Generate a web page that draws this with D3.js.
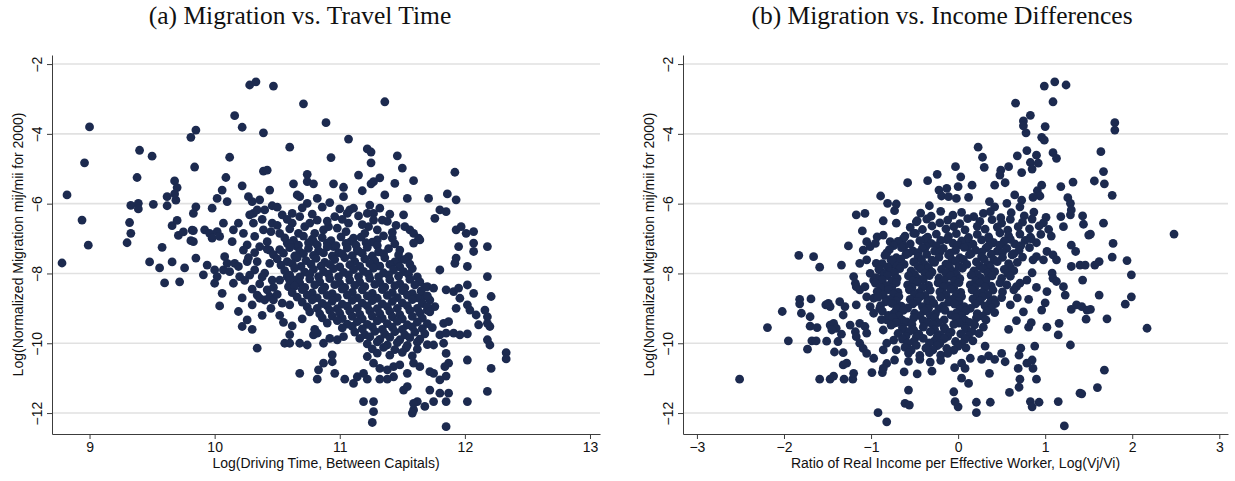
<!DOCTYPE html>
<html>
<head>
<meta charset="utf-8">
<script src="https://cdn.jsdelivr.net/npm/d3@7"></script>
<style>
  html, body { margin: 0; padding: 0; background: #ffffff; }
  svg { display: block; }
</style>
</head>
<body>
<svg id="chart" width="1235" height="481"></svg>
<script>
// Shared vertical axis: log of normalized migration flows, 2000
const migrationTicks = [-2, -4, -6, -8, -10, -12];
const travelTicks = [9, 10, 11, 12, 13];
const incomeTicks = [-3, -2, -1, 0, 1, 2, 3];

const panelTitles = ["(a) Migration vs. Travel Time", "(b) Migration vs. Income Differences"];
const xTitles = ["Log(Driving Time, Between Capitals)", "Ratio of Real Income per Effective Worker, Log(Vj/Vi)"];
const yTitle = "Log(Normalized Migration mij/mii for 2000)";

// Panel (a): [log driving time, log normalized migration]
const travelPoints = [
  [9.0,-3.8],[8.96,-4.83],[8.82,-5.75],[8.94,-6.47],[8.99,-7.19],[8.78,-7.7],
  [10.28,-2.6],[10.33,-2.51],[10.47,-2.63],[10.71,-3.14],[10.89,-3.68],[10.16,-3.48],[10.22,-3.81],[10.39,-3.97],
  [9.85,-3.89],[9.81,-4.1],[9.4,-4.47],[9.5,-4.64],[9.84,-4.95],[10.12,-4.67],[10.6,-4.38],[10.93,-4.68],
  [9.38,-5.25],[9.68,-5.35],[9.7,-5.54],[10.09,-5.25],[10.39,-5.07],[10.42,-5.04],[10.74,-5.16],
  [9.62,-5.8],[9.69,-5.9],[9.68,-5.72],[9.33,-6.05],[9.39,-5.99],[9.39,-6.15],[9.51,-6.02],[9.62,-6.06],
  [9.85,-6.09],[9.83,-6.28],[9.32,-6.54],[9.33,-6.85],[9.3,-7.12],[9.66,-6.63],[9.7,-6.48],[9.71,-6.91],
  [9.75,-6.81],[9.82,-6.76],[9.83,-6.77],[9.83,-7.09],[9.81,-7.06],[9.58,-7.25],
  [9.48,-7.67],[9.56,-7.84],[9.66,-7.67],[9.76,-7.84],[9.85,-7.56],[9.6,-8.27],[9.72,-8.24],
  [11.36,-3.08],[11.07,-4.15],[11.22,-4.43],[11.25,-4.52],[11.46,-4.63],[11.25,-4.83],[11.5,-4.98],
  [11.92,-5.1],[11.15,-5.18],[11.32,-5.26],
  [10.06,-5.61],[10.02,-5.85],[10.1,-5.94],[9.98,-6.13],[10.22,-5.49],[10.44,-5.61],[10.63,-5.43],[10.74,-5.37],
  [10.79,-5.43],[10.95,-5.43],[11.03,-5.53],[11.03,-5.8],[11.18,-5.63],[11.25,-5.43],[11.27,-5.37],[11.44,-5.42],
  [11.59,-5.34],[10.66,-5.75],[10.68,-5.8],[10.74,-5.99],[10.82,-5.85],[10.92,-5.97],[11.08,-6.18],[11.11,-6.13],
  [11.24,-6.04],[11.32,-6.13],[11.27,-6.28],[11.36,-5.75],[11.54,-5.85],[11.71,-5.85],[11.86,-5.72],[11.93,-5.89],
  [11.8,-6.18],[11.76,-6.42],[10.27,-5.8],[10.3,-5.94],[10.36,-5.89],[10.4,-6.18],[10.46,-6.06],[10.31,-6.28],[10.34,-6.18],
  [9.92,-6.75],[9.96,-6.85],[10.02,-6.8],[9.98,-6.99],[10.04,-6.94],[10.07,-6.56],[10.15,-6.75],[10.19,-6.56],
  [10.14,-7.09],[10.23,-6.85],[10.28,-6.32],[10.31,-6.56],[10.26,-7.18],[10.23,-7.33],[10.32,-6.94],[10.39,-6.75],
  [10.42,-7.09],[10.46,-6.56],[10.44,-7.33],[10.36,-7.23],[10.54,-6.32],[10.52,-6.85],[10.58,-7.13],[10.62,-6.28],
  [10.62,-6.56],[10.67,-6.85],[10.66,-7.23],[10.68,-6.37],[10.72,-6.66],[10.76,-6.56],[10.79,-7.09],[10.82,-6.47],
  [10.87,-6.75],[10.91,-6.66],[10.95,-7.23],[10.96,-6.37],[10.98,-6.7],[11.06,-6.28],[11.07,-6.56],[11.11,-6.99],
  [11.14,-7.33],[11.22,-6.28],[11.23,-6.66],[11.27,-6.47],[11.3,-7.04],[11.34,-6.47],[11.38,-6.51],[11.42,-6.99],
  [11.48,-7.33],[11.51,-6.32],[11.52,-6.66],[11.56,-6.75],[11.59,-6.85],[11.63,-6.99],[11.64,-7.04],[11.59,-7.13],
  [11.55,-7.52],[11.48,-7.61],[11.93,-6.75],[11.97,-6.66],[12.01,-6.85],[12.07,-6.8],[12.07,-7.13],[12.07,-7.37],
  [12.18,-7.23],[11.95,-7.23],[11.93,-7.56],[11.92,-7.71],[12.02,-7.8],[11.8,-7.9],[11.85,-6.23],
  [9.91,-8.04],[9.94,-7.76],[10.0,-7.9],[10.02,-8.09],[10.0,-8.28],[10.08,-7.52],[10.07,-7.9],[10.1,-7.71],
  [10.16,-7.71],[10.19,-7.8],[10.2,-8.09],[10.15,-8.28],[10.26,-7.66],[10.34,-7.66],[10.32,-7.9],[10.4,-7.99],
  [10.44,-7.71],[10.46,-8.19],[10.42,-8.47],[10.34,-8.62],[10.36,-8.71],[10.4,-8.76],[10.44,-8.66],[10.47,-8.76],
  [10.54,-8.85],[10.52,-8.19],[10.58,-8.09],[10.59,-8.38],[10.62,-8.19],[10.64,-8.19],[10.06,-8.57],[10.04,-8.93],
  [10.19,-9.09],[10.26,-9.33],[10.22,-9.52],[10.3,-9.6],[10.34,-10.14],
  [11.7,-8.38],[11.75,-8.42],[11.67,-8.66],[11.72,-8.76],[11.76,-8.95],[11.7,-9.05],[11.85,-8.47],[11.91,-8.52],
  [11.95,-8.42],[11.96,-8.71],[12.02,-8.33],[12.07,-8.57],[11.93,-9.0],[12.02,-8.9],[12.04,-9.05],[12.18,-8.09],
  [12.21,-8.66],[12.09,-9.19],[12.16,-9.05],[12.18,-9.24],[12.2,-9.52],[12.18,-9.43],[11.83,-9.43],[11.87,-9.38],
  [11.8,-9.76],[11.85,-9.71],[11.91,-9.71],[11.96,-9.76],[12.02,-9.73],[12.11,-9.47],[12.18,-9.9],[12.2,-10.05],
  [11.83,-10.0],[11.75,-10.05],[11.85,-10.29],[11.87,-10.57],[12.02,-10.48],[11.84,-10.67],[11.85,-10.94],[11.8,-11.05],
  [11.75,-10.86],[11.72,-10.81],[11.64,-10.67],[11.59,-10.57],[11.54,-10.86],[11.51,-11.34],[11.54,-11.24],[11.72,-11.34],
  [11.8,-11.43],[11.87,-11.43],[11.85,-11.67],[11.75,-11.67],[11.62,-11.67],[11.59,-11.91],[11.68,-11.81],[12.02,-11.67],
  [12.18,-11.38],[12.21,-10.72],[11.85,-12.39],[12.33,-10.27],[12.33,-10.45],
  [11.22,-10.38],[11.27,-10.57],[11.32,-10.72],[11.38,-10.76],[11.43,-10.67],[11.48,-10.62],[11.43,-10.96],[11.38,-11.03],
  [11.32,-11.03],[11.22,-11.03],[11.19,-10.86],[11.14,-10.96],[11.11,-11.15],[11.04,-11.03],[10.96,-10.86],[10.94,-10.53],
  [10.94,-10.33],[10.87,-10.57],[10.83,-10.76],[10.82,-11.03],[10.68,-10.86],[11.19,-11.67],[11.27,-11.67],[11.27,-11.96],
  [11.26,-12.27],[11.59,-11.72],[11.58,-12.0],[10.56,-10.0],[10.6,-10.0],[10.68,-10.0],[10.74,-10.05],[10.79,-9.76],
  [10.82,-9.71],[10.87,-10.0],[10.92,-9.86],[10.98,-9.9],[11.03,-9.81],
  [10.56,-6.98],[10.63,-7.05],[10.71,-6.93],[10.78,-7.02],[10.86,-6.97],[10.93,-7.06],[11.01,-6.95],[11.09,-7.08],
  [11.17,-6.96],[11.26,-7.1],[11.35,-6.92],
  [10.6,-7.15],[10.67,-7.19],[10.75,-7.12],[10.82,-7.18],[10.9,-7.13],[10.97,-7.2],[11.05,-7.14],[11.13,-7.19],
  [11.21,-7.12],[11.3,-7.2],[11.44,-7.15],
  [10.52,-7.32],[10.6,-7.26],[10.68,-7.38],[10.75,-7.28],[10.83,-7.35],[10.9,-7.24],[10.99,-7.4],[11.06,-7.27],
  [11.15,-7.36],[11.22,-7.25],[11.31,-7.38],[11.39,-7.29],[10.32,-7.4],[10.42,-7.3],
  [10.47,-7.46],[10.55,-7.42],[10.64,-7.5],[10.71,-7.43],[10.79,-7.48],[10.87,-7.41],[10.94,-7.5],[11.02,-7.44],
  [11.1,-7.49],[11.18,-7.42],[11.26,-7.5],[11.35,-7.43],[11.47,-7.47],
  [10.5,-7.58],[10.58,-7.66],[10.66,-7.55],[10.73,-7.63],[10.81,-7.57],[10.88,-7.68],[10.96,-7.6],[11.04,-7.55],
  [11.12,-7.66],[11.2,-7.58],[11.28,-7.64],[11.36,-7.55],[11.44,-7.67],[11.52,-7.6],[10.27,-7.55],
  [10.53,-7.76],[10.62,-7.72],[10.69,-7.8],[10.77,-7.73],[10.85,-7.79],[10.92,-7.74],[11.0,-7.81],[11.08,-7.75],
  [11.16,-7.8],[11.24,-7.72],[11.32,-7.79],[11.4,-7.74],[11.48,-7.81],[11.56,-7.73],
  [10.56,-7.92],[10.64,-7.85],[10.72,-7.96],[10.79,-7.88],[10.87,-7.95],[10.95,-7.86],[11.03,-7.97],[11.11,-7.89],
  [11.19,-7.94],[11.27,-7.85],[11.35,-7.98],[11.43,-7.9],[11.51,-7.95],[11.58,-7.86],
  [10.6,-8.05],[10.68,-8.1],[10.76,-8.03],[10.83,-8.09],[10.91,-8.02],[10.99,-8.1],[11.07,-8.04],[11.15,-8.09],
  [11.23,-8.02],[11.31,-8.1],[11.39,-8.04],[11.47,-8.08],[11.55,-8.03],[11.62,-8.1],
  [10.6,-8.2],[10.68,-8.27],[10.76,-8.16],[10.84,-8.24],[10.92,-8.15],[11.0,-8.28],[11.08,-8.19],[11.16,-8.25],
  [11.24,-8.14],[11.32,-8.26],[11.4,-8.18],[11.48,-8.29],[11.56,-8.17],[11.64,-8.24],
  [10.64,-8.36],[10.72,-8.4],[10.8,-8.33],[10.88,-8.39],[10.96,-8.32],[11.04,-8.4],[11.12,-8.34],[11.2,-8.38],
  [11.28,-8.31],[11.36,-8.39],[11.44,-8.35],[11.52,-8.41],[11.6,-8.33],[11.68,-8.39],
  [10.62,-8.55],[10.7,-8.46],[10.78,-8.56],[10.86,-8.48],[10.94,-8.58],[11.02,-8.45],[11.1,-8.54],[11.18,-8.47],
  [11.26,-8.57],[11.34,-8.46],[11.42,-8.55],[11.5,-8.49],[11.58,-8.58],[11.65,-8.5],
  [10.66,-8.68],[10.74,-8.62],[10.82,-8.7],[10.9,-8.63],[10.98,-8.69],[11.06,-8.62],[11.14,-8.7],[11.22,-8.64],
  [11.3,-8.71],[11.38,-8.63],[11.46,-8.69],[11.54,-8.62],[11.62,-8.7],[11.7,-8.64],
  [10.7,-8.82],[10.78,-8.76],[10.86,-8.86],[10.94,-8.79],[11.02,-8.88],[11.1,-8.77],[11.18,-8.85],[11.26,-8.78],
  [11.34,-8.87],[11.42,-8.8],[11.5,-8.84],[11.58,-8.75],[11.66,-8.86],
  [10.74,-8.96],[10.82,-9.0],[10.9,-8.93],[10.98,-9.01],[11.06,-8.94],[11.14,-9.0],[11.22,-8.93],[11.3,-9.01],
  [11.38,-8.95],[11.46,-9.0],[11.54,-8.93],[11.62,-9.0],[11.7,-8.95],
  [10.76,-9.1],[10.84,-9.16],[10.92,-9.06],[11.0,-9.14],[11.08,-9.08],[11.16,-9.17],[11.24,-9.07],[11.32,-9.15],
  [11.4,-9.09],[11.48,-9.18],[11.56,-9.06],[11.64,-9.13],[11.72,-9.1],
  [10.86,-9.27],[10.94,-9.22],[11.02,-9.29],[11.1,-9.23],[11.18,-9.3],[11.26,-9.22],[11.34,-9.29],[11.42,-9.24],
  [11.5,-9.3],[11.58,-9.23],[11.66,-9.28],
  [10.9,-9.42],[10.98,-9.35],[11.06,-9.45],[11.14,-9.38],[11.22,-9.46],[11.3,-9.36],[11.38,-9.44],[11.46,-9.37],
  [11.54,-9.47],[11.62,-9.39],[11.7,-9.44],
  [11.02,-9.56],[11.1,-9.52],[11.18,-9.59],[11.26,-9.53],[11.34,-9.6],[11.42,-9.54],[11.5,-9.6],[11.58,-9.53],
  [11.66,-9.58],[11.74,-9.55],
  [11.12,-9.68],[11.2,-9.75],[11.28,-9.66],[11.36,-9.74],[11.44,-9.67],[11.52,-9.76],[11.6,-9.68],[11.68,-9.73],
  [11.16,-9.86],[11.24,-9.82],[11.32,-9.89],[11.4,-9.83],[11.48,-9.9],[11.56,-9.84],[11.64,-9.88],
  [11.22,-10.02],[11.3,-9.96],[11.38,-10.05],[11.46,-9.98],[11.54,-10.06],[11.62,-9.97],[11.7,-10.04],
  [11.26,-10.16],[11.35,-10.12],[11.44,-10.18],[11.53,-10.13],[11.62,-10.17],
  [11.3,-10.28],[11.4,-10.34],[11.5,-10.26],[11.58,-10.36],
  [10.28,-8.05],[10.36,-8.3],[10.47,-8.4],[10.3,-8.9],[10.52,-9.2],[10.62,-9.5],[10.7,-9.3],[10.6,-9.75],[10.8,-9.6],
  [10.5,-6.1],[10.58,-6.45],[10.7,-6.12],[10.78,-6.3],[10.86,-6.1],[10.9,-6.5],[11.0,-6.15],[11.02,-6.45],
  [11.15,-6.35],[11.18,-6.6],[11.3,-6.75],[11.4,-6.3],[11.45,-6.62],[10.5,-6.62],[10.6,-6.72],[10.8,-6.85],
  [11.05,-6.8],[11.2,-6.85],[11.42,-6.82],[10.38,-6.45],[10.45,-6.8],
  [10.12,-7.95],[10.24,-8.2],[10.38,-8.1],[10.3,-8.45],[10.5,-8.6],[10.22,-8.7],[10.45,-9.0],[10.6,-8.9],
  [10.38,-9.2],[10.55,-9.4]
];

// Panel (b): [log income ratio, log normalized migration]
const incomePoints = [
  [-2.51,-11.03],[-2.19,-9.55],[-2.02,-9.09],[-1.95,-9.93],[-1.83,-7.48],[-1.66,-7.52],[-1.59,-7.82],[-1.34,-7.76],
  [-1.26,-7.21],[-1.17,-6.32],[-1.07,-6.28],[-1.1,-6.78],[-0.89,-5.78],[-0.81,-5.99],[-0.73,-6.2],[-0.71,-6.01],
  [-0.86,-6.49],[-0.71,-6.56],
  [-1.82,-8.74],[-1.82,-8.87],[-1.69,-8.73],[-1.8,-9.14],[-1.7,-9.24],[-1.7,-9.51],[-1.62,-9.55],[-1.73,-10.17],
  [-1.68,-9.93],[-1.63,-9.93],[-1.52,-8.9],[-1.47,-8.95],[-1.49,-8.86],[-1.51,-9.94],[-1.42,-10.25],[-1.32,-10.27],
  [-1.38,-9.95],[-1.36,-8.81],[-1.3,-8.95],[-1.32,-9.19],[-1.47,-9.48],[-1.43,-9.43],[-1.4,-9.57],[-1.45,-9.62],
  [-1.34,-9.74],[-1.32,-10.62],[-1.28,-10.57],[-1.59,-11.03],[-1.47,-11.03],[-1.43,-10.94],[-1.31,-11.03],[-1.21,-11.03],
  [-1.2,-10.86],[-1.24,-9.48],[-1.17,-8.9],[-1.18,-9.67],[-1.17,-9.81],[-1.13,-10.0],[-1.09,-10.15],[-1.13,-9.43],
  [-1.07,-9.52],[-1.05,-9.71],[-1.05,-10.29],[-0.97,-10.43],[-0.99,-10.84],[-0.87,-10.84],[-0.86,-10.19],[-0.92,-11.99],
  [-0.82,-12.25],[-1.2,-8.09],[-1.18,-8.28],[-1.13,-8.47],[-1.07,-8.38],[-1.05,-8.67],[-1.13,-7.71],[-1.05,-7.61],
  [-0.94,-7.71],[-0.9,-7.9],[-0.88,-8.14],[-1.09,-7.33],[-1.01,-7.23],[-0.95,-7.14],[-1.05,-7.09],[-0.93,-6.95],
  [-0.86,-6.9],[-0.78,-7.09],[-0.74,-7.18],[-0.76,-7.61],[-0.78,-7.8],
  [-0.97,-8.71],[-1.01,-8.95],[-0.97,-9.14],[-0.9,-9.0],[-0.84,-8.47],[-0.82,-8.76],[-0.76,-8.38],[-0.74,-8.66],
  [-0.71,-9.05],[-0.82,-9.33],[-0.74,-9.43],[-0.86,-9.62],[-0.82,-10.0],[-0.74,-9.91],[-0.71,-10.19],[-0.73,-10.48],
  [-0.82,-10.58],[-0.86,-10.72],[-1.01,-8.0],[-0.97,-8.19],[-1.17,-8.38],
  [0.99,-2.63],[1.11,-2.51],[1.24,-2.6],[1.09,-3.08],[0.66,-3.12],[0.83,-3.47],[0.75,-3.63],[0.75,-3.77],
  [0.78,-3.97],[1.0,-3.79],[0.96,-4.1],[0.99,-4.18],[0.23,-4.38],[0.28,-4.67],[0.3,-4.96],[0.79,-4.48],
  [0.68,-4.63],[0.9,-4.61],[1.09,-4.54],[1.13,-4.7],[0.83,-4.82],[0.92,-4.84],[0.85,-5.01],[0.73,-5.11],
  [0.58,-4.94],[0.49,-5.04],[-0.03,-4.94],[0.03,-5.23],[-0.24,-5.16],[-0.35,-5.34],[-0.58,-5.4],[0.16,-5.47],
  [0.0,-5.51],[-0.13,-5.56],[-0.22,-5.61],[-0.19,-5.78],[-0.11,-5.8],[-0.02,-5.85],[0.12,-5.82],[0.48,-5.18],
  [0.54,-5.4],[0.42,-5.47],[0.96,-5.47],[0.91,-5.63],[0.94,-5.78],[0.86,-5.82],[1.18,-5.51],[1.32,-5.38],
  [1.26,-5.83],[1.29,-5.99],[1.3,-6.18],[1.29,-6.32],[1.43,-6.35],[1.44,-6.59],[1.5,-6.9],[1.18,-6.37],
  [1.21,-6.66],[1.3,-7.19],[1.35,-7.37],[-0.33,-6.06],[-0.47,-6.49],[-0.51,-6.85],[-0.59,-7.42],[0.36,-5.94],
  [0.42,-6.09],[0.37,-6.23],[0.56,-5.99],[0.65,-5.75],[0.73,-5.9],[0.71,-6.09],
  [1.8,-3.68],[1.8,-3.89],[1.64,-4.51],[1.67,-5.08],[1.565,-5.35],[1.68,-5.43],[1.77,-5.76],[1.67,-6.56],
  [1.52,-6.87],[2.48,-6.87],[1.78,-7.14],[1.77,-7.53],[1.62,-7.66],[1.57,-7.76],[1.94,-7.63],[1.99,-8.04],
  [1.62,-8.62],[1.52,-9.03],[1.99,-8.67],[1.92,-8.88],[1.71,-9.3],[2.17,-9.57],[1.68,-10.77],[1.6,-11.27],
  [1.22,-12.37],[0.21,-11.99],[0.21,-11.69],[0.37,-11.69],[0.0,-11.82],[-0.035,-11.67],[-0.05,-11.39],[-0.61,-11.72],
  [-0.56,-11.77],[-0.57,-11.34],[0.12,-11.15],[0.04,-11.0],[0.36,-10.86],[-0.04,-10.7],[0.04,-10.57],[0.08,-10.72],
  [0.14,-10.43],[0.27,-10.46],[0.35,-10.36],[0.42,-10.46],[0.54,-10.53],[0.5,-10.29],[0.31,-10.08],[0.69,-10.72],
  [0.71,-11.03],[0.7,-11.26],[0.79,-10.57],[0.85,-10.48],[0.86,-10.72],[0.9,-11.03],[0.72,-10.14],[0.7,-10.34],
  [0.59,-11.41],[0.83,-11.67],[0.85,-11.82],[0.93,-11.69],[1.15,-11.67],[1.4,-11.43],[1.42,-11.45],[0.88,-10.08],
  [1.29,-10.05],[1.02,-9.54],[1.15,-9.76],[1.16,-9.43],[0.81,-9.54],[0.84,-9.41],[0.67,-9.35],[0.96,-9.05],
  [1.0,-8.84],[0.81,-8.74],[0.9,-8.4],[1.02,-8.52],[1.23,-8.62],[1.3,-9.03],[1.36,-8.9],[1.42,-8.95],
  [1.48,-9.05],[1.47,-9.31],[1.3,-7.8],[1.4,-7.76],[1.46,-7.76],[1.43,-8.19],[1.21,-8.38],[1.08,-7.99],
  [1.09,-8.14],[1.13,-8.23],[0.86,-7.61],[0.9,-7.52],[1.02,-7.37],[1.09,-7.47],[1.13,-7.61],[0.98,-7.61],
  [0.85,-7.98],[0.79,-8.19],[0.71,-8.28],[0.67,-8.38],[0.64,-8.47],
  [-0.43,-6.27],[-0.31,-6.36],[-0.2,-6.22],[-0.06,-6.33],[0.04,-6.25],[0.18,-6.37],[0.29,-6.28],[0.49,-6.4],
  [0.61,-6.26],[0.76,-6.35],[0.87,-6.24],[1.01,-6.39],
  [-0.48,-6.52],[-0.36,-6.44],[-0.21,-6.55],[-0.12,-6.47],[0.02,-6.57],[0.11,-6.43],[0.25,-6.51],[0.39,-6.46],
  [0.5,-6.56],[0.6,-6.45],[0.74,-6.53],[0.85,-6.44],[0.98,-6.55],
  [-0.55,-6.68],[-0.41,-6.74],[-0.3,-6.64],[-0.14,-6.72],[-0.05,-6.66],[0.08,-6.75],[0.22,-6.65],[0.31,-6.73],
  [0.45,-6.67],[0.57,-6.76],[0.69,-6.66],[0.82,-6.72],[0.93,-6.64],[1.04,-6.74],
  [-0.61,-6.93],[-0.49,-6.85],[-0.35,-6.96],[-0.25,-6.87],[-0.11,-6.94],[-0.02,-6.86],[0.12,-6.97],[0.22,-6.88],
  [0.35,-6.95],[0.48,-6.84],[0.58,-6.92],[0.71,-6.87],[0.83,-6.96],[0.95,-6.88],[1.07,-6.93],
  [-0.63,-7.0],[-0.38,-7.02],[-0.13,-7.03],[0.11,-7.02],[0.36,-7.03],[0.6,-7.02],[0.84,-7.01],
  [-0.69,-7.08],[-0.55,-7.15],[-0.44,-7.06],[-0.31,-7.14],[-0.2,-7.05],[-0.06,-7.13],[0.04,-7.07],[0.17,-7.16],
  [0.27,-7.04],[0.41,-7.12],[0.53,-7.07],[0.65,-7.15],[0.77,-7.05],[0.9,-7.12],
  [-0.74,-7.2],[-0.62,-7.22],[-0.37,-7.23],[-0.25,-7.2],[0.0,-7.19],[0.11,-7.23],[0.35,-7.21],[0.48,-7.19],[0.72,-7.2],
  [-0.79,-7.32],[-0.65,-7.26],[-0.52,-7.35],[-0.41,-7.27],[-0.27,-7.36],[-0.17,-7.28],[-0.03,-7.34],[0.07,-7.25],
  [0.2,-7.33],[0.32,-7.27],[0.45,-7.36],[0.56,-7.28],[0.7,-7.34],[0.82,-7.26],
  [-0.82,-7.41],[-0.57,-7.42],[-0.46,-7.4],[-0.21,-7.39],[-0.09,-7.42],[0.15,-7.43],[0.27,-7.39],[0.51,-7.4],[0.64,-7.43],
  [-0.84,-7.48],[-0.71,-7.55],[-0.6,-7.46],[-0.46,-7.53],[-0.36,-7.45],[-0.22,-7.54],[-0.11,-7.47],[0.02,-7.55],
  [0.13,-7.46],[0.27,-7.52],[0.38,-7.45],[0.51,-7.54],[0.62,-7.47],[0.74,-7.53],
  [-0.77,-7.62],[-0.66,-7.59],[-0.42,-7.6],[-0.3,-7.62],[-0.07,-7.61],[0.06,-7.6],[0.3,-7.59],[0.41,-7.61],
  [-0.87,-7.72],[-0.75,-7.66],[-0.62,-7.74],[-0.51,-7.67],[-0.38,-7.75],[-0.27,-7.68],[-0.14,-7.73],[-0.03,-7.65],
  [0.1,-7.74],[0.21,-7.67],[0.34,-7.75],[0.45,-7.66],[0.58,-7.72],[0.68,-7.68],
  [-0.81,-7.82],[-0.7,-7.79],[-0.46,-7.8],[-0.34,-7.83],[-0.1,-7.81],[0.01,-7.8],[0.25,-7.79],[0.37,-7.81],[0.6,-7.82],
  [-0.91,-7.88],[-0.78,-7.95],[-0.67,-7.86],[-0.54,-7.93],[-0.43,-7.87],[-0.3,-7.96],[-0.19,-7.88],[-0.06,-7.94],
  [0.05,-7.85],[0.18,-7.93],[0.29,-7.87],[0.42,-7.95],[0.53,-7.88],[0.64,-7.92],
  [-0.85,-8.02],[-0.73,-7.99],[-0.5,-8.03],[-0.38,-8.0],[-0.14,-7.99],[-0.02,-8.02],[0.22,-8.03],[0.34,-7.99],[0.57,-8.0],
  [-0.94,-8.12],[-0.81,-8.06],[-0.7,-8.14],[-0.57,-8.07],[-0.46,-8.15],[-0.33,-8.06],[-0.22,-8.13],[-0.09,-8.08],
  [0.02,-8.15],[0.15,-8.05],[0.26,-8.13],[0.39,-8.07],[0.5,-8.14],[0.6,-8.08],
  [-0.87,-8.19],[-0.76,-8.22],[-0.52,-8.21],[-0.4,-8.18],[-0.16,-8.2],[-0.04,-8.21],[0.2,-8.22],[0.32,-8.2],
  [-0.95,-8.28],[-0.82,-8.35],[-0.71,-8.26],[-0.58,-8.33],[-0.47,-8.25],[-0.34,-8.34],[-0.23,-8.27],[-0.1,-8.35],
  [0.01,-8.26],[0.14,-8.33],[0.25,-8.28],[0.38,-8.36],[0.48,-8.27],[0.56,-8.33],
  [-0.89,-8.4],[-0.77,-8.42],[-0.53,-8.41],[-0.41,-8.4],[-0.17,-8.39],[-0.05,-8.41],[0.19,-8.42],[0.31,-8.39],
  [-0.93,-8.52],[-0.8,-8.46],[-0.69,-8.54],[-0.56,-8.47],[-0.45,-8.55],[-0.32,-8.48],[-0.21,-8.53],[-0.08,-8.45],
  [0.03,-8.54],[0.16,-8.47],[0.27,-8.55],[0.4,-8.48],[0.51,-8.53],
  [-0.86,-8.62],[-0.74,-8.59],[-0.5,-8.6],[-0.38,-8.63],[-0.14,-8.61],[-0.02,-8.6],[0.22,-8.59],[0.34,-8.61],
  [-0.92,-8.68],[-0.79,-8.75],[-0.68,-8.66],[-0.55,-8.74],[-0.44,-8.67],[-0.31,-8.75],[-0.2,-8.68],[-0.07,-8.74],
  [0.04,-8.66],[0.17,-8.73],[0.28,-8.67],[0.41,-8.75],[0.5,-8.69],
  [-0.83,-8.81],[-0.71,-8.79],[-0.47,-8.8],[-0.35,-8.81],[-0.11,-8.82],[0.01,-8.8],[0.25,-8.79],[0.37,-8.82],
  [-0.89,-8.92],[-0.76,-8.86],[-0.65,-8.94],[-0.52,-8.87],[-0.41,-8.95],[-0.28,-8.86],[-0.17,-8.93],[-0.04,-8.88],
  [0.07,-8.95],[0.2,-8.87],[0.31,-8.93],[0.43,-8.86],
  [-0.7,-9.01],[-0.58,-8.99],[-0.34,-9.0],[-0.22,-9.01],[0.02,-9.02],[0.14,-9.0],[0.38,-8.99],
  [-0.87,-9.08],[-0.74,-9.15],[-0.63,-9.06],[-0.5,-9.14],[-0.39,-9.07],[-0.26,-9.15],[-0.15,-9.06],[-0.02,-9.13],
  [0.09,-9.07],[0.22,-9.15],[0.33,-9.08],[0.42,-9.12],
  [-0.8,-9.2],[-0.68,-9.22],[-0.44,-9.21],[-0.32,-9.2],[-0.08,-9.19],[0.04,-9.21],[0.28,-9.22],
  [-0.88,-9.32],[-0.75,-9.26],[-0.64,-9.34],[-0.51,-9.27],[-0.4,-9.35],[-0.27,-9.28],[-0.16,-9.33],[-0.03,-9.26],
  [0.08,-9.34],[0.21,-9.27],[0.32,-9.33],
  [-0.71,-9.41],[-0.59,-9.39],[-0.35,-9.4],[-0.23,-9.41],[0.01,-9.42],[0.13,-9.4],
  [-0.77,-9.48],[-0.64,-9.55],[-0.53,-9.46],[-0.4,-9.54],[-0.29,-9.47],[-0.16,-9.55],[-0.05,-9.46],[0.08,-9.53],
  [0.19,-9.47],[0.29,-9.54],
  [-0.63,-9.6],[-0.51,-9.62],[-0.27,-9.61],[-0.15,-9.6],[0.09,-9.59],
  [-0.69,-9.72],[-0.56,-9.66],[-0.45,-9.74],[-0.32,-9.67],[-0.21,-9.75],[-0.08,-9.68],[0.03,-9.73],[0.16,-9.66],
  [0.24,-9.72],
  [-0.6,-9.8],[-0.48,-9.82],[-0.24,-9.81],[-0.12,-9.8],[0.12,-9.79],
  [-0.64,-9.88],[-0.51,-9.95],[-0.4,-9.86],[-0.27,-9.93],[-0.16,-9.87],[-0.03,-9.95],[0.08,-9.88],[0.17,-9.93],
  [-0.58,-10.0],[-0.33,-9.99],[-0.21,-10.01],[0.04,-10.02],
  [-0.61,-10.12],[-0.48,-10.06],[-0.37,-10.14],[-0.24,-10.07],[-0.13,-10.15],[0.0,-10.08],[0.09,-10.13],
  [-0.54,-10.2],[-0.29,-10.19],[-0.05,-10.2],
  [-0.57,-10.28],[-0.44,-10.35],[-0.33,-10.27],[-0.2,-10.34],[-0.12,-10.29],
  [-0.57,-10.52],[-0.44,-10.46],[-0.32,-10.54],[-0.2,-10.49],
  [-0.62,-10.82],[-0.47,-10.88],[-0.3,-10.8],
  [0.6,-8.9],[0.75,-9.1],[0.58,-9.6],[0.68,-8.7]
];

const svg = d3.select("#chart");
const dotColor = "#1c2a4f";
const gridColor = "#e1e1e1";
const axisColor = "#3c3c3c";
const sansFont = "'Liberation Sans', Arial, sans-serif";
const serifFont = "'Liberation Serif', 'Times New Roman', serif";

const y = d3.scaleLinear().domain([-12.6, -1.74]).range([434, 55]);

const panels = [
  { points: travelPoints, ticks: travelTicks, domain: [8.7, 13.08], range: [52, 600], title: panelTitles[0], xTitle: xTitles[0], titleX: 300, yTitleX: 18 },
  { points: incomePoints, ticks: incomeTicks, domain: [-3.16, 3.1], range: [683, 1228], title: panelTitles[1], xTitle: xTitles[1], titleX: 942, yTitleX: 649 }
];

panels.forEach(p => {
  const x = d3.scaleLinear().domain(p.domain).range(p.range);
  const g = svg.append("g");

  // horizontal grid lines at each labelled migration value
  g.append("g").selectAll("line")
    .data(migrationTicks)
    .join("line")
    .attr("x1", p.range[0]).attr("x2", p.range[1])
    .attr("y1", d => y(d)).attr("y2", d => y(d))
    .attr("stroke", gridColor).attr("stroke-width", 1.6);

  // scatter markers
  g.append("g").selectAll("circle")
    .data(p.points)
    .join("circle")
    .attr("cx", d => x(d[0]))
    .attr("cy", d => y(d[1]))
    .attr("r", 4.4)
    .attr("fill", dotColor);

  // left axis with vertical tick labels
  const yAxis = g.append("g")
    .attr("transform", `translate(${p.range[0]},0)`)
    .call(d3.axisLeft(y).tickValues(migrationTicks).tickFormat(d3.format("d")).tickSize(5).tickSizeOuter(0));
  yAxis.selectAll("text")
    .attr("transform", "rotate(-90)")
    .attr("x", 0).attr("y", -10).attr("dy", 0)
    .attr("text-anchor", "middle");

  // bottom axis
  const xAxis = g.append("g")
    .attr("transform", `translate(0,${y.range()[0]})`)
    .call(d3.axisBottom(x).tickValues(p.ticks).tickFormat(d3.format("d")).tickSize(5).tickSizeOuter(0));

  [yAxis, xAxis].forEach(a => {
    a.select(".domain").attr("stroke", axisColor).attr("stroke-width", 1);
    a.selectAll(".tick line").attr("stroke", axisColor);
    a.selectAll("text").attr("fill", "#111").style("font-family", sansFont).style("font-size", "14px");
  });

  // axis titles
  g.append("text")
    .attr("x", (p.range[0] + p.range[1]) / 2)
    .attr("y", 468)
    .attr("text-anchor", "middle")
    .style("font-family", sansFont).style("font-size", "14px").attr("fill", "#111")
    .text(p.xTitle);

  g.append("text")
    .attr("transform", `translate(${p.yTitleX + 5},${(y.range()[0] + y.range()[1]) / 2}) rotate(-90)`)
    .attr("text-anchor", "middle")
    .style("font-family", sansFont).style("font-size", "14px").attr("fill", "#111")
    .text(yTitle);

  // panel title
  g.append("text")
    .attr("x", p.titleX)
    .attr("y", 24)
    .attr("text-anchor", "middle")
    .style("font-family", serifFont).style("font-size", "25.5px").attr("fill", "#111")
    .text(p.title);
});
</script>
</body>
</html>
